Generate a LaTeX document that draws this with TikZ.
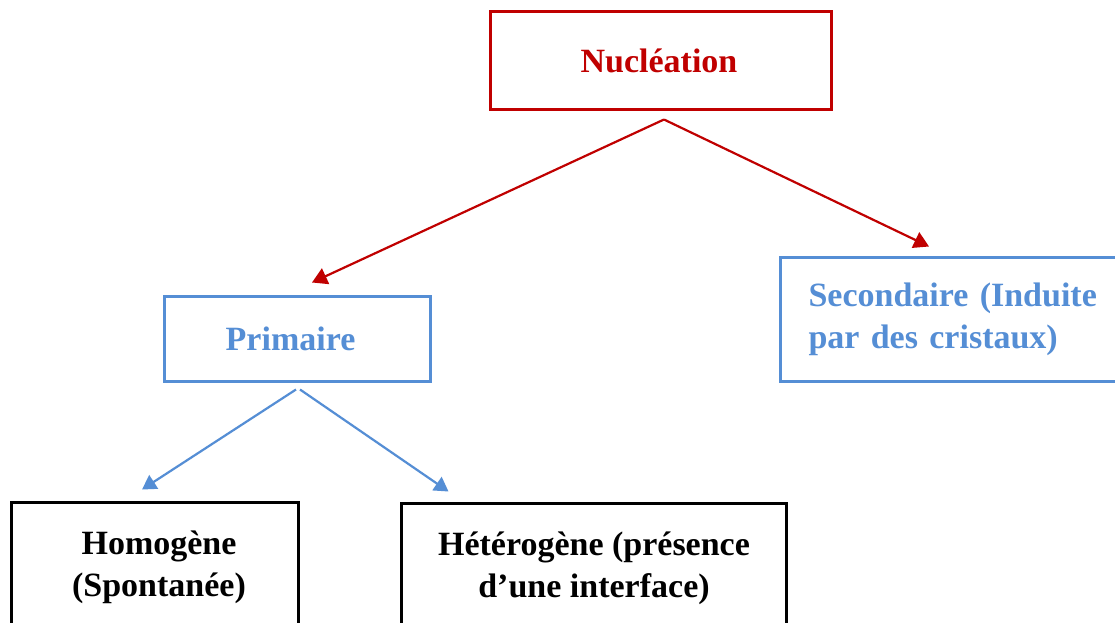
\documentclass[tikz,border=0pt]{standalone}
\usepackage{fontspec}
\setmainfont{Liberation Serif}
\usetikzlibrary{arrows.meta}
\definecolor{nred}{HTML}{C00000}
\definecolor{nblue}{HTML}{558ED5}
\begin{document}
\begin{tikzpicture}[x=1pt,y=-1pt,
  box/.style={draw, line width=3pt, inner sep=0pt, font=\fontsize{34}{42}\selectfont\bfseries, align=center},
  redbox/.style={box, draw=nred, text=nred},
  bluebox/.style={box, draw=nblue, text=nblue},
  blackbox/.style={box, draw=black, text=black},
  redarrow/.style={draw=nred, line width=2.2pt, -{Triangle[length=15pt,width=17pt]}},
  bluearrow/.style={draw=nblue, line width=2.2pt, -{Triangle[length=14pt,width=16pt]}}]
\useasboundingbox (0,0) rectangle (1115,622);
\clip (0,0) rectangle (1115,622);
\fill[white] (0,0) rectangle (1115,622);

\node[redbox, minimum width=341pt, minimum height=98pt] (nuc) at (661,60.5) {\raisebox{-2pt}{Nucléation}\hspace*{4pt}};
\node[bluebox, minimum width=266pt, minimum height=85pt] (prim) at (297.5,339) {Primaire\hspace*{14pt}};
\node[bluebox, anchor=west, minimum height=124pt, text width=380pt, inner xsep=28.5pt, align=left] (sec) at (778.5,319.5) {Secondaire (Induite\\par des cristaux)};
\node[blackbox, minimum width=287pt, minimum height=130pt] (hom) at (155,567.5) {\hspace*{8pt}Homogène\\\hspace*{8pt}(Spontanée)};
\node[blackbox, minimum width=385pt, minimum height=130pt] (het) at (594,568.5) {Hétérogène (présence\\d’une interface)};

\draw[redarrow] ([shift={(3pt,-8.5pt)}]nuc.south) -- ([shift={(14.5pt,12.5pt)}]prim.north);
\draw[redarrow] ([shift={(3pt,-8.5pt)}]nuc.south) -- ([shift={(150.5pt,9.5pt)}]sec.north west);
\draw[bluearrow] ([shift={(-1.5pt,-6.5pt)}]prim.south) -- ([shift={(-13pt,11.5pt)}]hom.north);
\draw[bluearrow] ([shift={(2.5pt,-6.5pt)}]prim.south) -- ([shift={(48.5pt,10.5pt)}]het.north west);
\end{tikzpicture}
\end{document}
